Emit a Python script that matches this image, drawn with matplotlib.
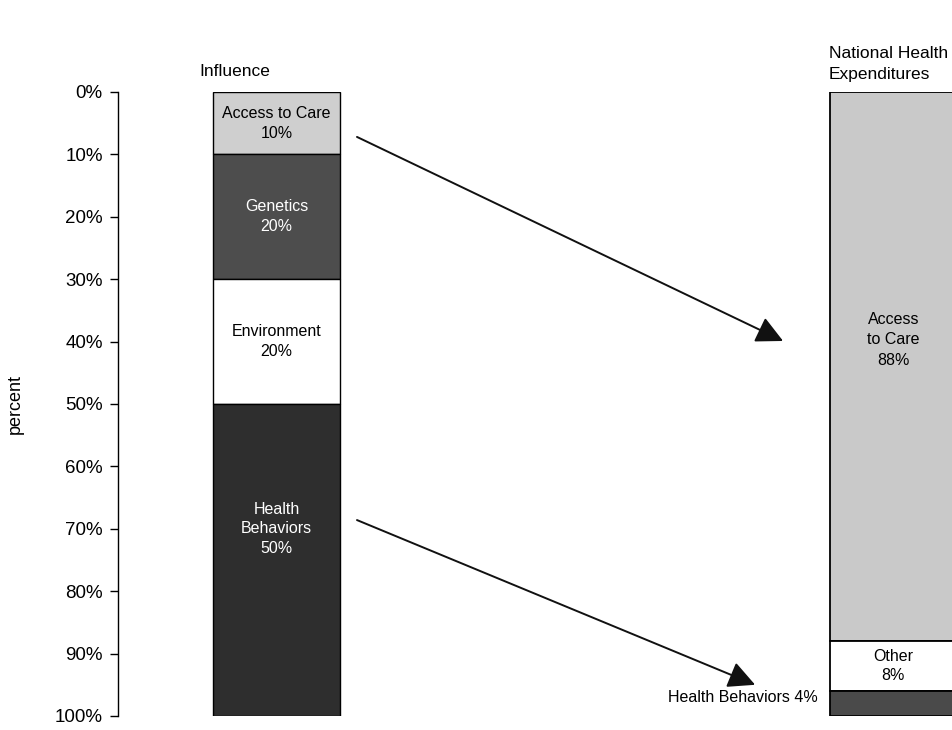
import matplotlib.pyplot as plt
import numpy as np

plt.rcParams["font.family"] = ["Liberation Sans", "DejaVu Sans"]

# left bar: share of influence on health
infl_labels = ["Access to Care", "Genetics", "Environment", "Health\nBehaviors"]
infl_values = [10, 20, 20, 50]
infl_colors = ["#cfcfcf", "#4d4d4d", "#ffffff", "#2e2e2e"]
infl_text = ["black", "white", "black", "white"]

# right bar: national health expenditures
nhe_labels = ["Access\nto Care", "Other", "Health Behaviors"]
nhe_values = [88, 8, 4]
nhe_colors = ["#c9c9c9", "#ffffff", "#4a4a4a"]

ticks = np.arange(0, 101, 10)

fig = plt.figure(figsize=(9.53, 7.3), dpi=100)
ax = fig.add_axes([118 / 953, 1 - 716 / 730, 1 - 118 / 953, (716 - 92) / 730])
ax.set_xlim(0, 6.6)
ax.set_ylim(100, 0)

x_left, x_right, w = 1.253, 6.128, 1.0
fs_in = 11.5

# where the labels sit inside the left bar (the last one is not centred)
infl_label_y = [5, 20, 40, 70]

bottom = 0
for lab, val, col, tc, ly in zip(infl_labels, infl_values, infl_colors, infl_text, infl_label_y):
    ax.bar(x_left, val, w, bottom=bottom, color=col, edgecolor="black", linewidth=1.0)
    ax.text(x_left, ly, f"{lab}\n{val}%", ha="center", va="center",
            fontsize=fs_in, color=tc, linespacing=1.4)
    bottom += val

bottom = 0
for lab, val, col in zip(nhe_labels, nhe_values, nhe_colors):
    ax.bar(x_right, val, w, bottom=bottom, color=col, edgecolor="black", linewidth=1.3)
    bottom += val

ax.text(x_right, 39.7, f"{nhe_labels[0]}\n{nhe_values[0]}%", ha="center", va="center",
        fontsize=fs_in, linespacing=1.45)
ax.text(x_right, nhe_values[0] + nhe_values[1] / 2, f"{nhe_labels[1]}\n{nhe_values[1]}%",
        ha="center", va="center", fontsize=fs_in, linespacing=1.4)
ax.text(5.534, 97, f"{nhe_labels[2]} {nhe_values[2]}%", ha="right", va="center",
        fontsize=fs_in)

arrow = dict(arrowstyle="-|>,head_length=1.1,head_width=0.55", mutation_scale=15,
             color="#111111", lw=1.4, shrinkA=0, shrinkB=0)
ax.annotate("", xy=(5.257, 39.9), xytext=(1.889, 7.2), arrowprops=arrow)
ax.annotate("", xy=(5.036, 95.0), xytext=(1.889, 68.6), arrowprops=arrow)

ax.set_yticks(ticks)
ax.set_yticklabels([f"{t}%" for t in ticks], fontsize=13.5)
ax.tick_params(axis="y", direction="out", length=6, width=1, pad=5)
ax.set_xticks([])
for s in ["top", "right", "bottom"]:
    ax.spines[s].set_visible(False)
ax.spines["left"].set_linewidth(1)

ax.set_ylabel("percent", fontsize=13, labelpad=22)

fig.text(235 / 953, 1 - 72 / 730, "Influence", ha="center", va="center", fontsize=12.5)
fig.text(829 / 953, 1 - 64 / 730, "National Health\nExpenditures", ha="left", va="center",
         fontsize=12.5, linespacing=1.45)

fig.savefig("out.png", dpi=100)
